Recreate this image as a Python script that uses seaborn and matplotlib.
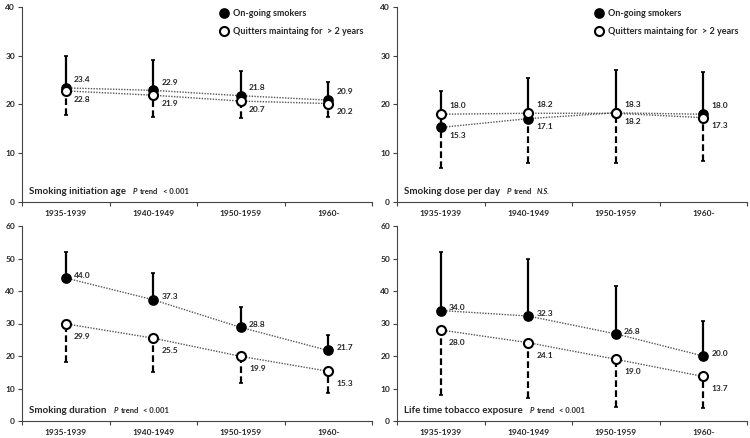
import numpy as np
import pandas as pd
import matplotlib
matplotlib.use("Agg")
import matplotlib.pyplot as plt
import seaborn as sns

# Data
cohorts = ["1935-1939", "1940-1949", "1950-1959", "1960-"]

init_smk = [23.4, 22.9, 21.8, 20.9]
init_smk_hi = [30.0, 29.2, 26.8, 24.7]
init_qt = [22.8, 21.9, 20.7, 20.2]
init_qt_lo = [17.8, 17.5, 17.2, 17.4]

dose_smk = [15.3, 17.1, 18.3, 18.0]
dose_smk_hi = [22.8, 25.4, 27.1, 26.6]
dose_qt = [18.0, 18.2, 18.2, 17.3]
dose_qt_lo = [6.9, 7.9, 8.0, 8.4]

dur_smk = [44.0, 37.3, 28.8, 21.7]
dur_smk_hi = [52.0, 45.5, 35.2, 26.4]
dur_qt = [29.9, 25.5, 19.9, 15.3]
dur_qt_lo = [18.2, 15.1, 11.6, 8.7]

exp_smk = [34.0, 32.3, 26.8, 20.0]
exp_smk_hi = [52.0, 49.9, 41.5, 30.7]
exp_qt = [28.0, 24.1, 19.0, 13.7]
exp_qt_lo = [8.0, 7.0, 4.4, 3.9]

titles = ["Smoking initiation age", "Smoking dose per day",
          "Smoking duration", "Life time tobacco exposure"]
ptrend = ["< 0.001", "N.S.", "< 0.001", "< 0.001"]
ymax = [40, 40, 60, 60]

sns.set_style("white")
plt.rcParams['font.family'] = ['Lato', 'DejaVu Sans']
plt.rcParams['font.weight'] = 'bold'

fig = plt.figure(figsize=(7.5, 4.38), dpi=100)
boxes = [[22/750, 1-202/438, 350/750, 195/438],
         [397/750, 1-202/438, 350/750, 195/438],
         [22/750, 1-421/438, 350/750, 195/438],
         [397/750, 1-421/438, 350/750, 195/438]]

panels = [(init_smk, init_smk_hi, init_qt, init_qt_lo),
          (dose_smk, dose_smk_hi, dose_qt, dose_qt_lo),
          (dur_smk, dur_smk_hi, dur_qt, dur_qt_lo),
          (exp_smk, exp_smk_hi, exp_qt, exp_qt_lo)]

x = np.arange(len(cohorts))

for i, (smk, smk_hi, qt, qt_lo) in enumerate(panels):
    ax = fig.add_axes(boxes[i])
    smk = np.array(smk); qt = np.array(qt)

    # error bars: smokers up (solid), quitters down (dashed)
    ax.errorbar(x, smk, yerr=[np.zeros(4), np.array(smk_hi) - smk], fmt='none',
                ecolor='black', elinewidth=1.6, capsize=1.5, capthick=1.2, zorder=2)
    eb = ax.errorbar(x, qt, yerr=[qt - np.array(qt_lo), np.zeros(4)], fmt='none',
                     ecolor='black', elinewidth=1.6, capsize=1.5, capthick=1.2, zorder=2)
    eb[2][0].set_linestyle((0, (3, 1.5)))

    df = pd.DataFrame({"x": np.concatenate([x, x]),
                       "y": np.concatenate([smk, qt]),
                       "grp": ["On-going smokers"] * 4 + ["Quitters maintaing for  > 2 years"] * 4})
    sns.lineplot(data=df, x="x", y="y", units="grp", estimator=None, color='#555555',
                 linestyle=(0, (1, 1)), linewidth=1.0, ax=ax, zorder=3)
    ax.plot(x, smk, 'o', ms=6.5, mfc='black', mec='black', mew=1.2, zorder=4,
            label="On-going smokers")
    ax.plot(x, qt, 'o', ms=6.5, mfc='white', mec='black', mew=1.5, zorder=5,
            label="Quitters maintaing for  > 2 years")

    # value labels
    up, dn = (6, -6) if i < 2 else (2, -9)
    for k in range(4):
        hi_s = smk[k] >= qt[k]
        ax.annotate(f"{smk[k]:.1f}", (x[k], smk[k]), xytext=(6, up if hi_s else dn),
                    textcoords='offset points', fontsize=6, fontweight='bold',
                    va='center', ha='left')
        ax.annotate(f"{qt[k]:.1f}", (x[k], qt[k]), xytext=(6, dn if hi_s else up),
                    textcoords='offset points', fontsize=6, fontweight='bold',
                    va='center', ha='left')

    ax.set_xlim(-0.5, 3.5)
    ax.set_ylim(0, ymax[i])
    ax.set_yticks(np.arange(0, ymax[i] + 1, 10))
    ax.set_xticks(x)
    ax.set_xticklabels(cohorts)
    ax.set_xticks(np.arange(-0.5, 4, 1), minor=True)
    ax.tick_params(axis='x', which='major', length=0, pad=6, labelsize=6)
    ax.tick_params(axis='x', which='minor', length=3, width=0.8, color='#444444',
                   direction='out', bottom=True)
    ax.tick_params(axis='y', length=3, width=0.8, color='#444444', direction='out',
                   left=True, labelsize=6, pad=2)
    for lab in ax.get_xticklabels() + ax.get_yticklabels():
        lab.set_fontweight('bold')
    ax.set_xlabel("")
    ax.set_ylabel("")
    sns.despine(ax=ax)
    for s in ['left', 'bottom']:
        ax.spines[s].set_color('#444444')
        ax.spines[s].set_linewidth(0.8)
    ax.patch.set_alpha(0)

    # panel label: title, then italic P, "trend" and the value chained after it
    t = ax.text(0.02, 0.055, titles[i], transform=ax.transAxes, fontsize=7,
                fontweight='bold', va='center', ha='left')
    p = ax.annotate("P", xy=(1, 0.5), xycoords=t, xytext=(5, 0), textcoords='offset points',
                    fontsize=5.5, fontweight='bold', style='italic', va='center', ha='left')
    tr = ax.annotate("trend", xy=(1, 0.5), xycoords=p, xytext=(2, 0), textcoords='offset points',
                     fontsize=5.5, fontweight='bold', va='center', ha='left')
    ax.annotate(ptrend[i], xy=(1, 0.5), xycoords=tr, xytext=(3, 0), textcoords='offset points',
                fontsize=5.5, fontweight='bold', va='center', ha='left',
                style='italic' if ptrend[i] == "N.S." else 'normal')

    if i < 2:
        ax.legend(loc='upper right', bbox_to_anchor=(1.0, 1.03), frameon=False,
                  handletextpad=0.5, labelspacing=1.0, handlelength=1.0,
                  prop={'weight': 'bold', 'size': 6.5})
    else:
        leg = ax.get_legend()
        if leg is not None:
            leg.remove()

fig.savefig("out.png", dpi=100)
